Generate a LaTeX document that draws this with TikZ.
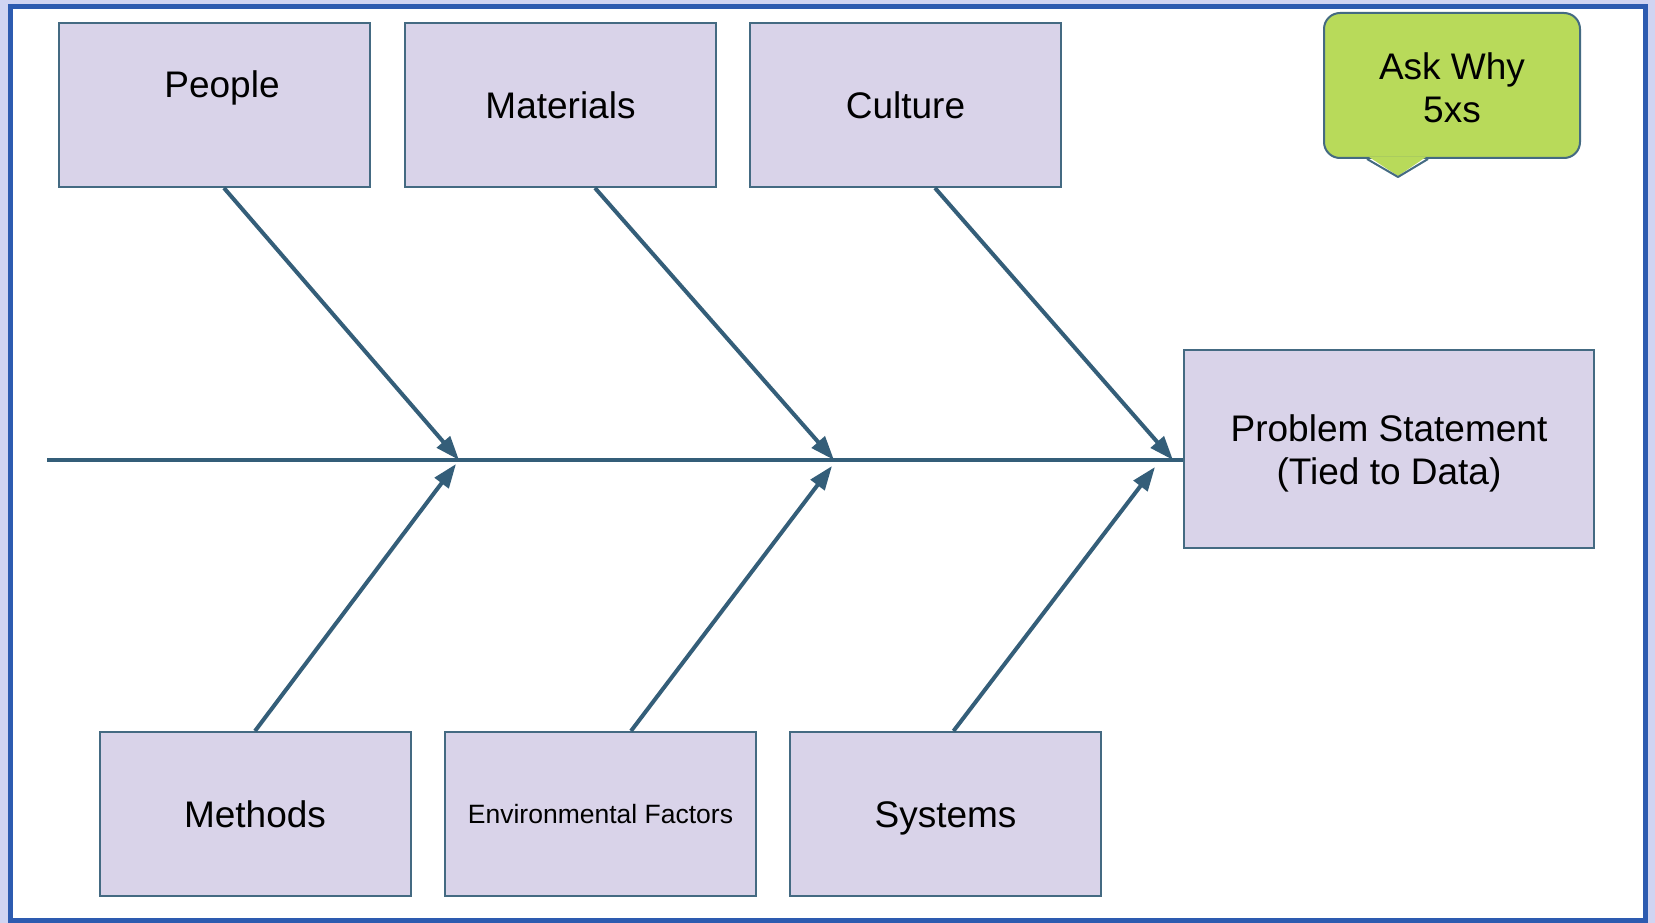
\documentclass[tikz,border=0pt]{standalone}
\usepackage{fontspec}
\setmainfont{Liberation Sans}
\usetikzlibrary{arrows.meta,calc}
\definecolor{bgl}{HTML}{D0D4F2}
\definecolor{frameblue}{HTML}{2D5BB0}
\definecolor{boxfill}{HTML}{D9D3E9}
\definecolor{boxline}{HTML}{446A82}
\definecolor{arrowc}{HTML}{345E79}
\definecolor{askgreen}{HTML}{B8DA5A}
\begin{document}
\begin{tikzpicture}[x=1pt,y=-1pt,
  boxbase/.style={draw=boxline, line width=2pt, fill=boxfill, minimum width=311pt,
    minimum height=164pt, inner sep=0pt, align=center,
    font=\fontsize{37}{43}\selectfont},
  cause/.style={boxbase, text height=27pt, text depth=0pt},
  bone/.style={draw=arrowc, line width=4pt, -{Triangle[length=24pt,width=17pt]}},
  spineline/.style={draw=arrowc, line width=4pt},
  askbox/.style={draw=boxline, line width=2pt, fill=askgreen, rounded corners=16pt,
    minimum width=256pt, minimum height=145pt, inner sep=0pt, align=center,
    font=\fontsize{37}{43}\selectfont}
]
% background and frame
\fill[bgl] (0,0) rectangle (1655,923);
\useasboundingbox (0,0) rectangle (1655,923);
\draw[frameblue, line width=5.5pt, fill=white] (10.5,6.5) rectangle (1645.5,920.5);

% cause boxes
\node[cause, text depth=42pt] (people) at (214.5,105) {\hspace*{15pt}People};
\node[cause] (materials) at (560.5,105) {Materials};
\node[cause] (culture) at (905.5,105) {Culture};
\node[cause] (methods) at (255,814) {Methods};
\node[cause, text height=19pt, font=\fontsize{26.5}{30}\selectfont] (env) at (600.5,814) {Environmental Factors};
\node[cause] (systems) at (945.5,814) {Systems};
\node[boxbase, minimum width=410pt, minimum height=198pt] (problem) at (1389,449)
  {\raisebox{-5pt}[\height][\depth]{\begin{tabular}{@{}c@{}}Problem Statement\\(Tied to Data)\end{tabular}}};

% callout
\node[askbox] (ask) at (1452,85.5)
  {\raisebox{-6.5pt}[\height][\depth]{\begin{tabular}{@{}c@{}}Ask Why\\5xs\end{tabular}}};
\fill[askgreen] ($(ask.south)+(-83,-2)$) -- ($(ask.south)+(-54,17)$) -- ($(ask.south)+(-26,-2)$) -- cycle;
\draw[boxline, line width=2pt, line join=round] ($(ask.south)+(-85,0)$) -- ($(ask.south)+(-54,18)$) -- ($(ask.south)+(-24,0)$);

% spine
\coordinate (tail) at (47,460);
\draw[spineline] (tail) -- (tail -| problem.west);

% junction points
\coordinate (j1) at (459,460);
\coordinate (j2) at (834,460);
\coordinate (j3) at (1173,460);
\coordinate (k1) at (456,464);
\coordinate (k2) at (832,466);
\coordinate (k3) at (1155,467);

% bones
\draw[bone] ($(people.south)+(9.5,0)$) -- (j1);
\draw[bone] ($(materials.south)+(34.5,0)$) -- (j2);
\draw[bone] ($(culture.south)+(29.5,0)$) -- (j3);
\draw[bone] (methods.north) -- (k1);
\draw[bone] ($(env.north)+(30.5,0)$) -- (k2);
\draw[bone] ($(systems.north)+(8,0)$) -- (k3);
\end{tikzpicture}
\end{document}
